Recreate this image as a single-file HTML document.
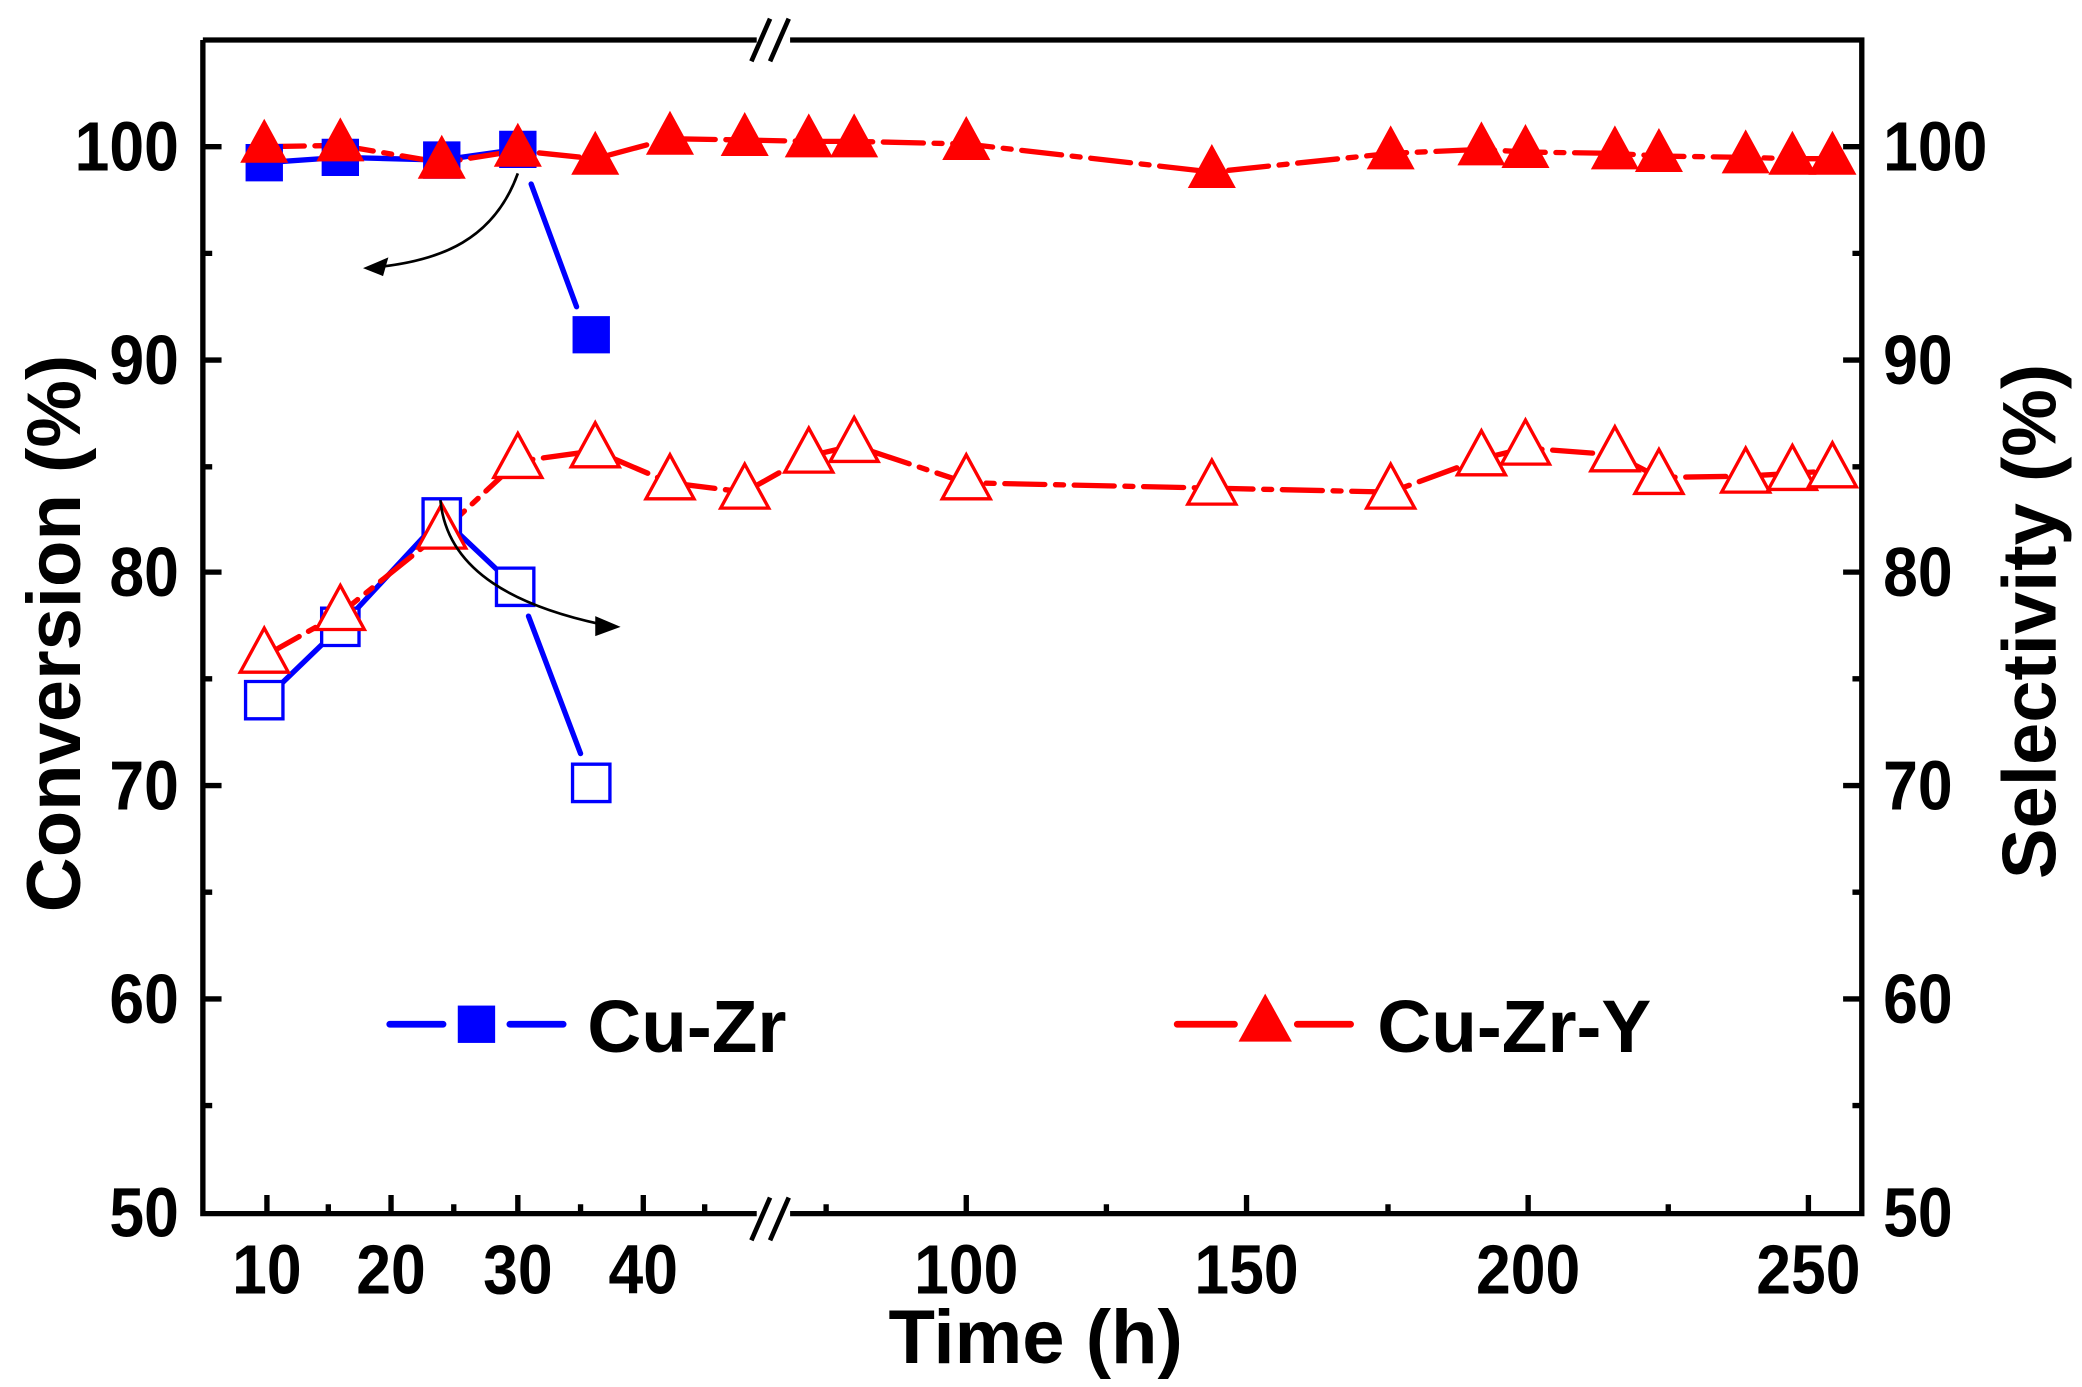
<!DOCTYPE html>
<html><head><meta charset="utf-8"><style>
html,body{margin:0;padding:0;background:#fff;}
svg{display:block;}
text{font-family:"Liberation Sans",Arial,sans-serif;font-weight:bold;fill:#000;}
</style></head><body>
<svg width="2082" height="1387" viewBox="0 0 1560 1040" preserveAspectRatio="none" xmlns="http://www.w3.org/2000/svg">
<defs>
<path id="tf" d="M0,-21 L18,12 L-18,12 Z"/>
<path id="sq" d="M-14,-14 H14 V14 H-14 Z"/>
</defs>
<g stroke="#000" stroke-width="4" fill="none">
<path d="M152,30 V910 H1395 V30 H152"/>
</g>
<g stroke="#fff" stroke-width="12"><path d="M567,910 H592 M567,30 H592"/></g>
<g stroke="#000" stroke-width="3.5"><path d="M563,930 L577,898 M577,930 L591,898 M563,46 L577,14 M577,46 L591,14"/></g>
<g stroke="#000" stroke-width="4">
<path d="M152,110 h14 M152,270 h14 M152,429 h14 M152,589 h14 M152,749 h14
M152,190 h7 M152,350 h7 M152,509 h7 M152,669 h7 M152,829 h7
M1395,110 h-14 M1395,270 h-14 M1395,429 h-14 M1395,589 h-14 M1395,749 h-14
M1395,190 h-7 M1395,350 h-7 M1395,509 h-7 M1395,669 h-7 M1395,829 h-7
M200,910 v-14 M293,910 v-14 M388,910 v-14 M482,910 v-14 M724,910 v-14 M934,910 v-14 M1145,910 v-14 M1355,910 v-14
M246,910 v-7 M340,910 v-7 M435,910 v-7 M528,910 v-7 M619,910 v-7 M829,910 v-7 M1040,910 v-7 M1250,910 v-7"/>
</g>
<g font-size="52" text-anchor="end">
<text transform="translate(134,128) scale(0.9,1)">100</text><text transform="translate(134,288) scale(0.9,1)">90</text><text transform="translate(134,447) scale(0.9,1)">80</text>
<text transform="translate(134,607) scale(0.9,1)">70</text><text transform="translate(134,767) scale(0.9,1)">60</text><text transform="translate(134,927) scale(0.9,1)">50</text>
</g>
<g font-size="52" text-anchor="start">
<text transform="translate(1411,128) scale(0.9,1)">100</text><text transform="translate(1411,288) scale(0.9,1)">90</text><text transform="translate(1411,447) scale(0.9,1)">80</text>
<text transform="translate(1411,607) scale(0.9,1)">70</text><text transform="translate(1411,767) scale(0.9,1)">60</text><text transform="translate(1411,927) scale(0.9,1)">50</text>
</g>
<g font-size="52" text-anchor="middle">
<text transform="translate(200,970) scale(0.9,1)">10</text><text transform="translate(293,970) scale(0.9,1)">20</text><text transform="translate(388,970) scale(0.9,1)">30</text><text transform="translate(482,970) scale(0.9,1)">40</text>
<text transform="translate(724,970) scale(0.9,1)">100</text><text transform="translate(934,970) scale(0.9,1)">150</text><text transform="translate(1145,970) scale(0.9,1)">200</text><text transform="translate(1355,970) scale(0.9,1)">250</text>
</g>
<text x="776" y="1022" font-size="57" text-anchor="middle">Time (h)</text>
<text transform="translate(60,475) rotate(-90)" font-size="57" text-anchor="middle">Conversion (%)</text>
<text transform="translate(1540,466) rotate(-90)" font-size="57" text-anchor="middle">Selectivity (%)</text>

<g stroke="#0000ff" stroke-width="4" fill="none" stroke-linecap="round">
<polyline points="198,122 255,118 331,120 388,112"/>
<path d="M398,138 L432,230"/>
<polyline points="198,525 255,470 331,388 386,440"/>
<path d="M396,462 L435,565"/>
</g>
<g stroke="#ff0000" stroke-width="4" fill="none" stroke-linecap="round" stroke-dasharray="30,8,6,8">
<polyline points="198,110 255,109 331,122 388,113 446,119 502,104 558,105 606,106 640,106 724,108 908,129 1042,115 1110,112 1143,114 1210,115 1243,117 1308,118 1343,119 1373,119"/>
<polyline points="198,492 255,460 331,399 388,346 446,338 502,362 558,369 606,342 640,334 724,362 908,366 1042,369 1110,344 1143,336 1210,341 1243,358 1308,357 1343,355 1373,353"/>
</g>
<g fill="#0000ff">
<use href="#sq" x="198" y="122"/><use href="#sq" x="255" y="118"/><use href="#sq" x="331" y="120"/><use href="#sq" x="388" y="112"/><use href="#sq" x="443" y="251"/>
</g>
<g fill="#fff" stroke="#0000ff" stroke-width="2.5">
<use href="#sq" x="198" y="525"/><use href="#sq" x="255" y="470"/><use href="#sq" x="331" y="388"/><use href="#sq" x="386" y="440"/><use href="#sq" x="443" y="587"/>
</g>
<g fill="#ff0000">
<use href="#tf" x="198" y="110"/><use href="#tf" x="255" y="109"/><use href="#tf" x="331" y="122"/><use href="#tf" x="388" y="113"/><use href="#tf" x="446" y="119"/><use href="#tf" x="502" y="104"/><use href="#tf" x="558" y="105"/><use href="#tf" x="606" y="106"/><use href="#tf" x="640" y="106"/><use href="#tf" x="724" y="108"/><use href="#tf" x="908" y="129"/><use href="#tf" x="1042" y="115"/><use href="#tf" x="1110" y="112"/><use href="#tf" x="1143" y="114"/><use href="#tf" x="1210" y="115"/><use href="#tf" x="1243" y="117"/><use href="#tf" x="1308" y="118"/><use href="#tf" x="1343" y="119"/><use href="#tf" x="1373" y="119"/>
</g>
<g fill="#fff" stroke="#ff0000" stroke-width="2.5">
<use href="#tf" x="198" y="492"/><use href="#tf" x="255" y="460"/><use href="#tf" x="331" y="399"/><use href="#tf" x="388" y="346"/><use href="#tf" x="446" y="338"/><use href="#tf" x="502" y="362"/><use href="#tf" x="558" y="369"/><use href="#tf" x="606" y="342"/><use href="#tf" x="640" y="334"/><use href="#tf" x="724" y="362"/><use href="#tf" x="908" y="366"/><use href="#tf" x="1042" y="369"/><use href="#tf" x="1110" y="344"/><use href="#tf" x="1143" y="336"/><use href="#tf" x="1210" y="341"/><use href="#tf" x="1243" y="358"/><use href="#tf" x="1308" y="357"/><use href="#tf" x="1343" y="355"/><use href="#tf" x="1373" y="353"/>
</g>
<g stroke="#000" stroke-width="2" fill="none">
<path d="M388,130 C370,180 330,195 285,200"/>
<path d="M330,375 C335,430 390,455 450,468"/>
</g>
<g fill="#000">
<path d="M272,201 L291,193 L287,207 Z"/>
<path d="M465,470 L446,462 L446,477 Z"/>
</g>
<g stroke-width="5" stroke-linecap="round">
<path d="M292,768 H332 M382,768 H422" stroke="#0000ff"/>
<path d="M882,768 H925 M972,768 H1012" stroke="#ff0000"/>
</g>
<rect x="343" y="754" width="28" height="28" fill="#0000ff"/>
<path d="M948,745 L968,781 L928,781 Z" fill="#ff0000"/>
<text x="440" y="789" font-size="56">Cu-Zr</text>
<text x="1032" y="789" font-size="56">Cu-Zr-Y</text>
</svg>
</body></html>
